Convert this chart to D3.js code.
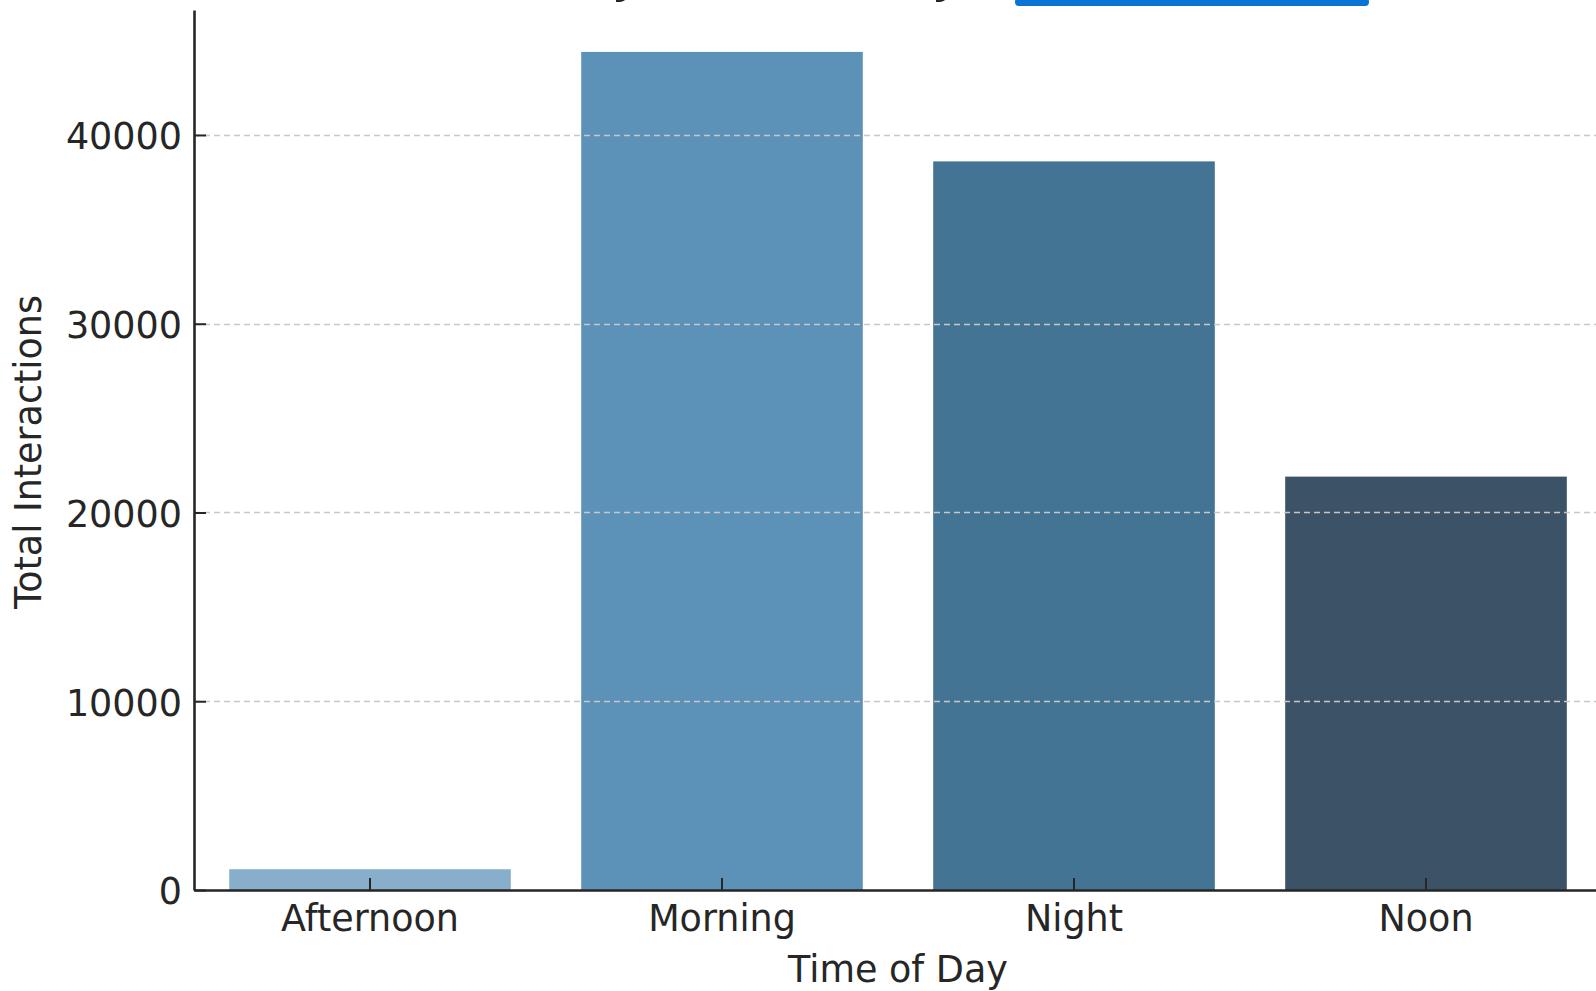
<!DOCTYPE html>
<html>
<head>
<meta charset="utf-8">
<script src="https://cdn.jsdelivr.net/npm/d3@7"></script>
<style>
  html, body { margin: 0; padding: 0; background: #ffffff; overflow: hidden; }
  svg { display: block; font-family: "DejaVu Sans", sans-serif; }
</style>
</head>
<body>
<svg id="chart" width="1596" height="991"></svg>
<script>
// Interaction totals per part of the day
const categories = ["Afternoon", "Morning", "Night", "Noon"];
const totals = [1100, 44400, 38600, 21900];
const barColors = ["#87aecb", "#5d92b8", "#447494", "#3c5266"];
const yTicks = [0, 10000, 20000, 30000, 40000];
const titleText = "Total Interactions by Time of Day";

(function draw() {
  const svg = d3.select("#chart");
  const W = 1596;

  // Plot area (the right edge runs past the visible canvas)
  const plotLeft = 194, plotRight = 1602, plotTop = 10, plotBottom = 890;
  const fontSize = 36.5;
  const ink = "#262626";

  const x = d3.scaleBand()
    .domain(categories)
    .range([plotLeft, plotRight])
    .paddingInner(0.2)
    .paddingOuter(0.1);

  const y = d3.scaleLinear()
    .domain([0, d3.max(totals) * 1.05])
    .range([plotBottom, plotTop]);

  // Bars
  svg.append("g")
    .selectAll("rect")
    .data(categories)
    .join("rect")
    .attr("x", d => x(d))
    .attr("width", x.bandwidth())
    .attr("y", (d, i) => y(totals[i]))
    .attr("height", (d, i) => y(0) - y(totals[i]))
    .attr("fill", (d, i) => barColors[i]);

  // Dashed horizontal grid, drawn above the bars
  svg.append("g")
    .selectAll("line")
    .data(yTicks.filter(v => v > 0))
    .join("line")
    .attr("x1", plotLeft)
    .attr("x2", W + 20)
    .attr("y1", d => Math.round(y(d)) + 0.5)
    .attr("y2", d => Math.round(y(d)) + 0.5)
    .attr("stroke", "#c8c8c8")
    .attr("stroke-width", 1.6)
    .attr("stroke-dasharray", "6,4");

  // Y axis (inward ticks)
  const yAxis = d3.axisLeft(y)
    .tickValues(yTicks)
    .tickFormat(d3.format("d"))
    .tickSizeInner(-12)
    .tickSizeOuter(0)
    .tickPadding(12);

  const gy = svg.append("g")
    .attr("transform", `translate(${plotLeft},0)`)
    .call(yAxis);
  gy.select(".domain").attr("stroke", ink).attr("stroke-width", 2.6);
  gy.selectAll(".tick line").attr("stroke", ink).attr("stroke-width", 2);
  gy.selectAll(".tick text")
    .attr("fill", ink)
    .attr("font-size", fontSize)
    .attr("font-family", "DejaVu Sans")
    .attr("dy", "0.38em");

  // X axis (inward ticks)
  const xAxis = d3.axisBottom(x)
    .tickSizeInner(-12)
    .tickSizeOuter(0)
    .tickPadding(14);

  const gx = svg.append("g")
    .attr("transform", `translate(0,${plotBottom})`)
    .call(xAxis);
  gx.select(".domain").attr("stroke", ink).attr("stroke-width", 2.6);
  gx.selectAll(".tick line").attr("stroke", ink).attr("stroke-width", 2);
  gx.selectAll(".tick text")
    .attr("fill", ink)
    .attr("font-size", fontSize)
    .attr("font-family", "DejaVu Sans")
    .attr("dy", null)
    .attr("y", 41);

  // Axis titles
  svg.append("text")
    .attr("x", (plotLeft + plotRight) / 2)
    .attr("y", 981.5)
    .attr("text-anchor", "middle")
    .attr("fill", ink)
    .attr("font-size", fontSize)
    .text("Time of Day");

  svg.append("text")
    .attr("transform", "translate(41,452) rotate(-90)")
    .attr("text-anchor", "middle")
    .attr("fill", ink)
    .attr("font-size", fontSize)
    .text("Total Interactions");

  // Chart title, sitting mostly above the top edge of the canvas
  const title = svg.append("text")
    .attr("x", 0)
    .attr("y", -8)
    .attr("fill", ink)
    .attr("font-size", 100)
    .text(titleText);
  try {
    const node = title.node();
    const firstY = titleText.indexOf("y");
    const lastY = titleText.lastIndexOf("y");
    const cx = i => {
      const e = node.getExtentOfChar(i);
      return e.x + e.width / 2;
    };
    const sep = cx(lastY) - cx(firstY);
    const titleSize = 100 * 320 / sep;
    const startX = 627 - cx(firstY) * titleSize / 100;
    title.attr("font-size", titleSize).attr("x", startX);
  } catch (err) {
    title.attr("font-size", 44).attr("x", (plotLeft + plotRight) / 2)
      .attr("text-anchor", "middle");
  }

  // Blue highlight strip along the top edge
  svg.append("rect")
    .attr("x", 1015)
    .attr("y", -2)
    .attr("width", 354)
    .attr("height", 8)
    .attr("rx", 4)
    .attr("ry", 4)
    .attr("fill", "#0a74d4");
})();
</script>
</body>
</html>
